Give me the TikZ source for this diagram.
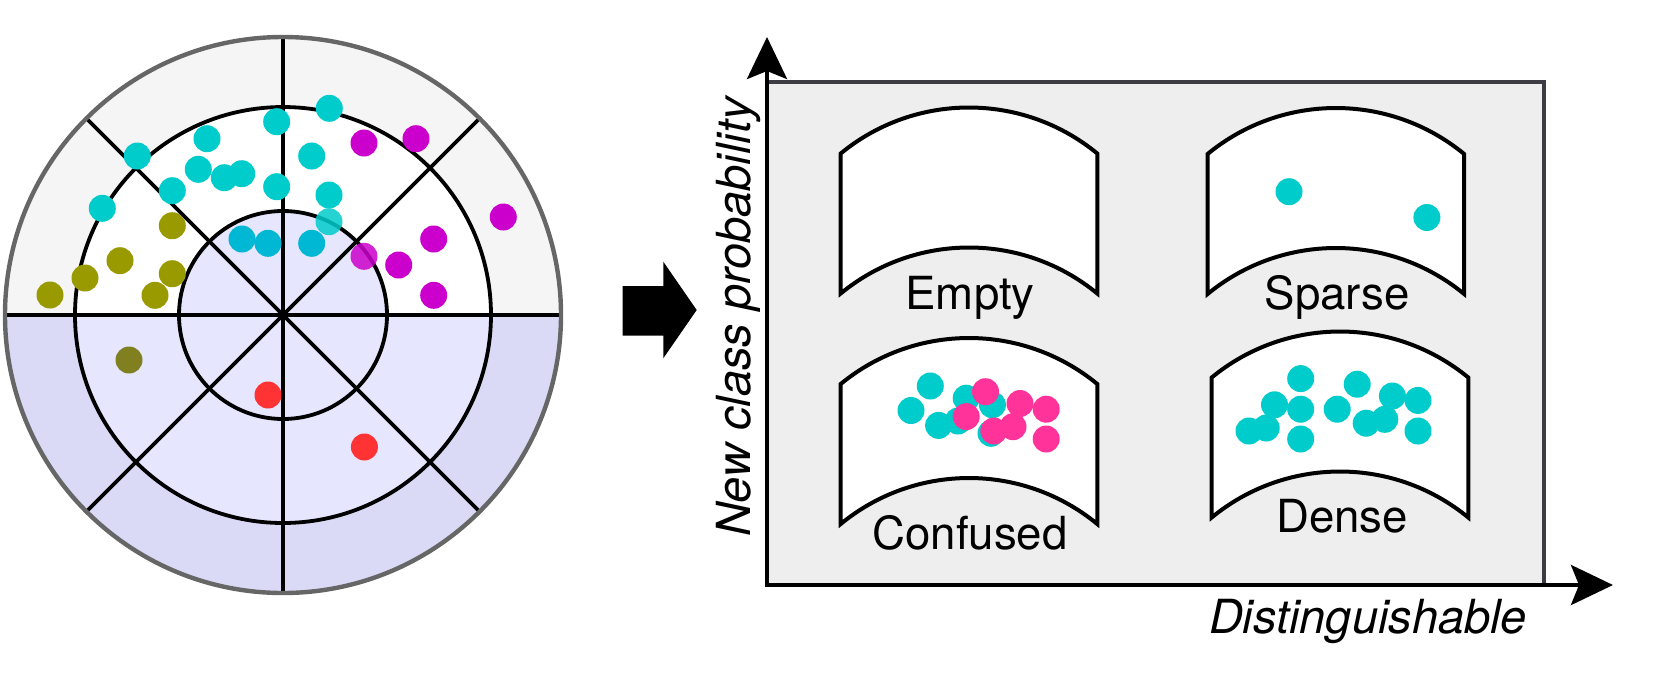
\documentclass[tikz,border=0pt]{standalone}
\usepackage{fontspec}
\setmainfont{TeX Gyre Heros}
\usetikzlibrary{arrows.meta}
\definecolor{cyanc}{HTML}{00CCCC}
\definecolor{cyand}{HTML}{00B8D4}
\definecolor{magc}{HTML}{CC00CC}
\definecolor{olivec}{HTML}{999900}
\definecolor{olived}{HTML}{808020}
\definecolor{redc}{HTML}{FF3333}
\definecolor{pinkc}{HTML}{FF3399}
\definecolor{ringtop}{HTML}{F5F5F5}
\definecolor{ringbot}{HTML}{DADAF6}
\definecolor{lav}{HTML}{E6E6FF}
\definecolor{boxfill}{HTML}{EEEEEE}
\definecolor{boxline}{HTML}{3C3C42}
\definecolor{outerline}{HTML}{666666}
\newcommand{\drawpanel}[2]{\draw[panelshape] (#1,#2) arc[start angle=-129.45, end angle=-50.55, radius=201.9] -- ++(0,140) arc[start angle=-50.55, end angle=-129.45, radius=201.9] -- cycle;}
\newcommand{\dotat}[3]{\fill[#1] (#2,#3) circle[radius=13.5];}
\begin{document}
\begin{tikzpicture}[x=0.5pt,y=-0.5pt,
  ringline/.style={line width=1.9pt, draw=black},
  panelshape/.style={draw=black, line width=2pt, fill=white, line join=miter},
  lbl/.style={font=\fontsize{22.8}{27}\selectfont, anchor=base, inner sep=0pt},
  axislbl/.style={font=\fontsize{23.5}{28}\selectfont\itshape, anchor=base, inner sep=0pt},
  axisline/.style={line width=2pt, line join=miter}]
\useasboundingbox (0,0) rectangle (1661,687);
% ---------- polar diagram ----------
\coordinate (C) at (283,315);
\begin{scope}
  \clip (0,0) rectangle (600,315);
  \fill[ringtop] (C) circle[radius=278];
  \fill[white] (C) circle[radius=208];
\end{scope}
\begin{scope}
  \clip (0,315) rectangle (600,687);
  \fill[ringbot] (C) circle[radius=278];
  \fill[lav] (C) circle[radius=208];
\end{scope}
\fill[lav] (C) circle[radius=104];
\draw[ringline] (C) circle[radius=208];
\draw[ringline] (C) circle[radius=104];
\draw[ringline] (C) +(-278,0) -- +(278,0);
\draw[ringline] (C) +(0,-278) -- +(0,278);
\draw[ringline] (C) +(-196.6,-196.6) -- +(196.6,196.6);
\draw[ringline] (C) +(-196.6,196.6) -- +(196.6,-196.6);
\draw[draw=outerline, line width=2.2pt] (C) circle[radius=278];
% dots
\dotat{cyanc}{329.3}{108.3}
\dotat{cyanc}{276.7}{121.7}
\dotat{cyanc}{207}{138.7}
\dotat{cyanc}{137.3}{156}
\dotat{cyanc}{311.7}{156}
\dotat{cyanc}{198.3}{169.3}
\dotat{cyanc}{224.3}{177.7}
\dotat{cyanc}{241.7}{173.7}
\dotat{cyanc}{276.7}{186.7}
\dotat{cyanc}{172.3}{190.7}
\dotat{cyanc}{329}{195}
\dotat{cyanc}{102.3}{208.3}
\dotat{cyanc,opacity=0.85}{329}{221.7}
\dotat{cyand}{242}{239}
\dotat{cyand}{268}{243.3}
\dotat{cyand}{311.7}{243.3}
\dotat{magc}{364}{143}
\dotat{magc}{416}{138.7}
\dotat{magc}{503.3}{217}
\dotat{magc}{433.7}{239}
\dotat{magc}{398.7}{265}
\dotat{magc}{433.7}{295.3}
\dotat{magc,opacity=0.85}{364}{256.3}
\dotat{olivec}{172.3}{225.7}
\dotat{olivec}{120}{260.7}
\dotat{olivec}{85}{278}
\dotat{olivec}{172.3}{273.7}
\dotat{olivec}{155}{295.3}
\dotat{olivec}{50}{295}
\dotat{olived}{129}{360}
\dotat{redc}{268}{395}
\dotat{redc}{364.4}{447}
% ---------- block arrow ----------
\fill[black] (622.7,286) -- (663.3,286) -- (663.3,261.7) -- (696.7,310) -- (663.3,358.3) -- (663.3,335.7) -- (622.7,335.7) -- cycle;
% ---------- box and axes ----------
\draw[fill=boxfill, draw=boxline, line width=2pt] (767,82) rectangle (1544,585);
\coordinate (O) at (767,585);
\coordinate (ytip) at (767,37);
\coordinate (xtip) at (1613,585);
\draw[axisline, {Stealth[length=21pt,width=20pt,inset=4pt]}-{Stealth[length=21pt,width=20pt,inset=4pt]}] (ytip) -- (O) -- (xtip);
% panels
\drawpanel{840.7}{153.5}
\drawpanel{1207.6}{154}
\drawpanel{840.7}{384}
\drawpanel{1211.7}{377.5}
% sparse dots
\dotat{cyanc}{1289}{191.7}
\dotat{cyanc}{1426.9}{217.5}
% confused dots
\dotat{cyanc}{930.3}{386}
\dotat{cyanc}{911}{410.5}
\dotat{cyanc}{938.6}{425.4}
\dotat{cyanc}{966.2}{398.2}
\dotat{cyanc}{958}{421}
\dotat{cyanc}{992.4}{404.8}
\dotat{cyanc}{991}{433.3}
\dotat{pinkc}{985.5}{391.7}
\dotat{pinkc}{966.2}{416.6}
\dotat{pinkc}{1020}{403.5}
\dotat{pinkc}{1046.2}{409.2}
\dotat{pinkc}{993.8}{431}
\dotat{pinkc}{1013}{426.7}
\dotat{pinkc}{1046.2}{439}
% dense dots
\dotat{cyanc}{1300.7}{378.6}
\dotat{cyanc}{1357.2}{384.2}
\dotat{cyanc}{1274.5}{404.8}
\dotat{cyanc}{1300.7}{409.2}
\dotat{cyanc}{1392.4}{396}
\dotat{cyanc}{1418}{400.4}
\dotat{cyanc}{1337.2}{409.2}
\dotat{cyanc}{1366.2}{423.2}
\dotat{cyanc}{1384.8}{419.3}
\dotat{cyanc}{1249}{431}
\dotat{cyanc}{1266.2}{428}
\dotat{cyanc}{1300.7}{439}
\dotat{cyanc}{1418}{431}
% labels
\node[lbl] (empty) at (970,309) {Empty};
\node[lbl] (sparse) at (1337,309) {Sparse};
\node[lbl] (confused) at (970,549) {Confused};
\node[lbl] (dense) at (1342,532) {Dense};
\node[axislbl] (xlbl) at (1368,633) {Distinguishable};
\node[axislbl, rotate=90] (ylbl) at (750,317) {New class probability};
\end{tikzpicture}
\end{document}
